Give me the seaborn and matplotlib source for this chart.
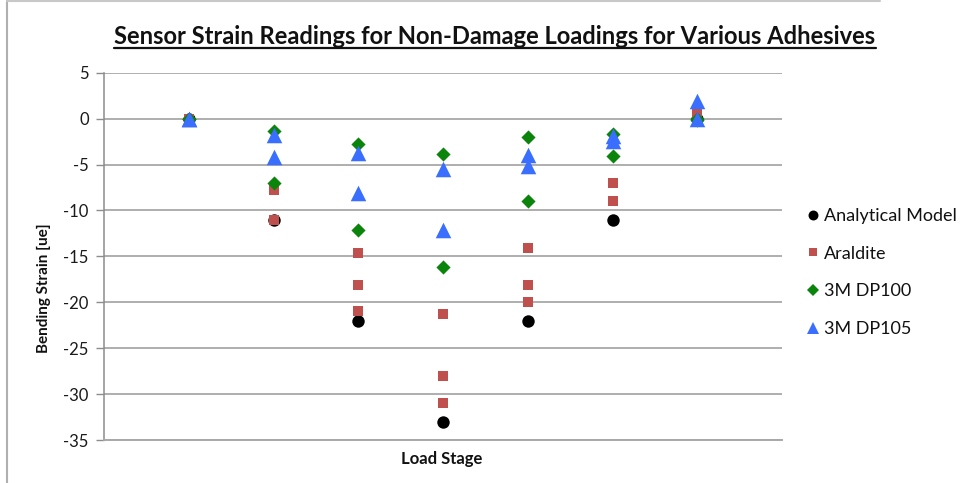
import matplotlib
matplotlib.use("Agg")
import matplotlib.pyplot as plt
from matplotlib.lines import Line2D
import seaborn as sns
import pandas as pd

# ---- data ----
stages = [1, 2, 3, 4, 5, 6, 7]
analytical = [0, -11, -22, -33, -22, -11, 0]
araldite_a = [0, -7.8, -14.6, -21.3, -14.1, -7.0, 0.8]
araldite_b = [0, -11.0, -18.1, -28.0, -18.1, -9.0, 0]
araldite_c = [0, -11.0, -21.0, -31.0, -20.0, -9.0, 0]
dp100_a = [0, -1.3, -2.8, -3.8, -2.0, -1.7, 0]
dp100_b = [0, -7.0, -12.1, -16.2, -9.0, -4.1, -0.2]
dp105_a = [0, -1.8, -3.7, -5.5, -4.0, -1.9, 1.9]
dp105_b = [0, -4.2, -8.1, -12.1, -5.2, -2.4, 0]
series_names = ["Analytical Model", "Araldite", "3M DP100", "3M DP105"]
yticks = [5, 0, -5, -10, -15, -20, -25, -30, -35]
title = "Sensor Strain Readings for Non-Damage Loadings for Various Adhesives"

rows = []
for name, lists in [("Analytical Model", [analytical]),
                    ("Araldite", [araldite_a, araldite_b, araldite_c]),
                    ("3M DP100", [dp100_a, dp100_b]),
                    ("3M DP105", [dp105_a, dp105_b])]:
    for lst in lists:
        for s, v in zip(stages, lst):
            rows.append({"stage": s, "value": v, "series": name})
df = pd.DataFrame(rows)

styles = {
    "Analytical Model": dict(color="#000000", marker="o", s=80),
    "Araldite": dict(color="#C0504D", marker="s", s=44),
    "3M DP100": dict(color="#0A840A", marker="D", s=52),
    "3M DP105": dict(color="#3A6EFF", marker="^", s=125),
}

sns.set_theme(style="white")
plt.rcParams["font.family"] = ["Lato", "DejaVu Sans"]

W, H = 971, 483
fig = plt.figure(figsize=(W / 100, H / 100), dpi=100)
ax = fig.add_axes([104 / W, 1 - 440 / H, (782 - 104) / W, (440 - 72.7) / H])

handles = []
for i, name in enumerate(series_names):
    st = styles[name]
    sub = df[df["series"] == name]
    sns.scatterplot(data=sub, x="stage", y="value", ax=ax, color=st["color"],
                    marker=st["marker"], s=st["s"], linewidth=0, zorder=3 + i,
                    legend=False)
    handles.append(Line2D([], [], linestyle="none", marker=st["marker"],
                          color=st["color"], markersize=st["s"] ** 0.5 * 0.8,
                          markeredgewidth=0))

ax.set_xlim(0, 8)
ax.set_ylim(-35, 5)
ax.set_xticks([])
ax.set_yticks(yticks)
ax.set_yticklabels([str(t) for t in yticks], fontsize=12, color="#1a1a1a")
ax.tick_params(axis="y", length=6, width=1, color="#8c8c8c", direction="out", pad=5, left=True)
ax.yaxis.grid(True, color="#a8a8a8", linewidth=1.3)
ax.set_axisbelow(True)
for side in ["top", "right"]:
    ax.spines[side].set_visible(False)
ax.spines["left"].set_color("#8c8c8c")
ax.spines["bottom"].set_color("#a8a8a8")
ax.spines["left"].set_linewidth(1.1)
ax.spines["bottom"].set_linewidth(1.4)
ax.set_xlabel("")
ax.set_ylabel("")

fig.text(442 / W, 1 - 459 / H, "Load Stage", fontsize=12, fontweight="bold",
         ha="center", va="center", color="#111111")
fig.text(44 / W, 1 - 288 / H, "Bending Strain [ue]", fontsize=11, fontweight="bold",
         ha="center", va="center", rotation=90, color="#111111")

leg = fig.legend(handles=handles, labels=series_names, loc="upper left",
                 bbox_to_anchor=(808 / W, 1 - 208 / H), frameon=False,
                 fontsize=13, handlelength=0.6, handletextpad=0.3,
                 labelspacing=1.2, borderpad=0, borderaxespad=0)
for t in leg.get_texts():
    t.set_color("#111111")

# title with underline, fitted to target width
target_w = 878 - 112
fs = 16.0
ttl = fig.text(495 / W, 1 - 44.3 / H, title, fontsize=fs, fontweight="bold",
               ha="center", va="baseline", color="#111111")
fig.canvas.draw()
r = fig.canvas.get_renderer()
bb = ttl.get_window_extent(r)
ttl.set_fontsize(fs * target_w / bb.width)
fig.canvas.draw()
bb = ttl.get_window_extent(r)
uy = 1 - 47.8 / H
fig.add_artist(Line2D([bb.x0 / W, bb.x1 / W], [uy, uy], color="#111111", linewidth=1.6))

# outer frame fragments (left and top edges)
fig.add_artist(Line2D([7 / W, 7 / W], [0, 1 - 1 / H], color="#b0b0b0", linewidth=1.5))
fig.add_artist(Line2D([7 / W, 880 / W], [1 - 1 / H, 1 - 1 / H], color="#c8c8c8", linewidth=1.5))

fig.savefig("out.png", dpi=100)
